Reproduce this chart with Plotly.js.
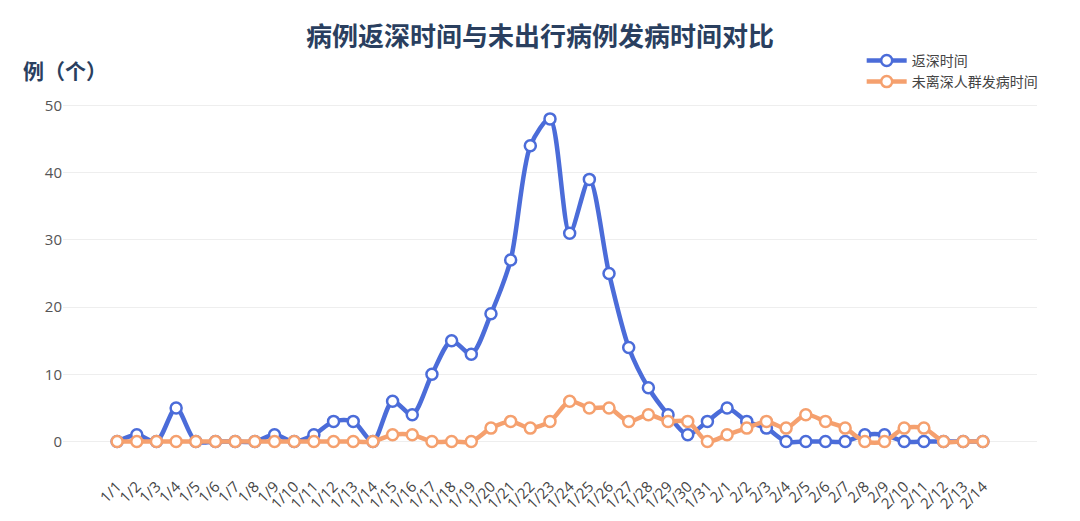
<!DOCTYPE html>
<html>
<head>
<meta charset="utf-8">
<script src="https://cdn.plot.ly/plotly-3.0.1.min.js"></script>
<style>
  html, body { margin: 0; padding: 0; background: #fff; }
  #chart { width: 1080px; height: 521px; }
</style>
</head>
<body>
<div id="chart"></div>
<script>
// dates on the x axis, 1/1 to 2/14
var dates = ['1/1','1/2','1/3','1/4','1/5','1/6','1/7','1/8','1/9','1/10',
  '1/11','1/12','1/13','1/14','1/15','1/16','1/17','1/18','1/19','1/20',
  '1/21','1/22','1/23','1/24','1/25','1/26','1/27','1/28','1/29','1/30','1/31',
  '2/1','2/2','2/3','2/4','2/5','2/6','2/7','2/8','2/9','2/10','2/11','2/12','2/13','2/14'];

// 返深时间
var returnCases = [0,1,0,5,0,0,0,0,1,0,
  1,3,3,0,6,4,10,15,13,19,
  27,44,48,31,39,25,14,8,4,1,3,
  5,3,2,0,0,0,0,1,1,0,0,0,0,0];

// 未离深人群发病时间
var localCases = [0,0,0,0,0,0,0,0,0,0,
  0,0,0,0,1,1,0,0,0,2,
  3,2,3,6,5,5,3,4,3,3,0,
  1,2,3,2,4,3,2,0,0,2,2,0,0,0];

var blue = '#4b6cd9';
var orange = '#f5a06e';

var returnTrace = {
  x: dates,
  y: returnCases,
  name: '返深时间',
  mode: 'lines+markers',
  type: 'scatter',
  line: {color: blue, width: 4.5, shape: 'spline', smoothing: 0.8},
  marker: {symbol: 'circle', size: 11, color: '#fff', line: {color: blue, width: 2.5}}
};

var localTrace = {
  x: dates,
  y: localCases,
  name: '未离深人群发病时间',
  mode: 'lines+markers',
  type: 'scatter',
  line: {color: orange, width: 4.5, shape: 'spline', smoothing: 0.8},
  marker: {symbol: 'circle', size: 11, color: '#fff', line: {color: orange, width: 2.5}}
};

var data = [returnTrace, localTrace];

var layout = {
  width: 1080,
  height: 521,
  margin: {l: 63, r: 43, t: 92, b: 66},
  paper_bgcolor: '#fff',
  plot_bgcolor: '#fff',
  font: {family: '"Open Sans", "Noto Sans CJK SC", sans-serif', color: '#444', size: 14},
  title: {
    text: '<b>病例返深时间与未出行病例发病时间对比</b>',
    x: 0.5, xanchor: 'center', y: 0.93, yanchor: 'middle',
    font: {size: 26, color: '#2a3f5f', family: '"Noto Sans CJK SC", sans-serif'}
  },
  xaxis: {
    type: 'category',
    range: [-2.75, 46.75],
    tickangle: -45,
    showgrid: false,
    zeroline: false,
    showline: false,
    ticklen: 16,
    tickcolor: 'rgba(0,0,0,0)',
    ticks: 'outside',
    tickfont: {size: 15, color: '#444'}
  },
  yaxis: {
    range: [-2, 52],
    dtick: 10,
    showgrid: true,
    gridcolor: '#eeeeee',
    zeroline: false,
    showline: false,
    tickfont: {size: 15, color: '#555'}
  },
  legend: {
    x: 0.82, xanchor: 'left',
    y: 1.13, yanchor: 'top',
    bgcolor: 'rgba(0,0,0,0)',
    font: {size: 14, color: '#444', family: '"Noto Sans CJK SC", sans-serif'},
    itemwidth: 40,
    tracegroupgap: 2
  },
  annotations: [{
    text: '<b>例（个）</b>',
    xref: 'paper', yref: 'paper',
    x: -0.043, xanchor: 'left',
    y: 1.06, yanchor: 'middle',
    showarrow: false,
    font: {size: 21, color: '#2a3f5f', family: '"Noto Sans CJK SC", sans-serif'}
  }]
};

Plotly.newPlot('chart', data, layout, {displayModeBar: false});
</script>
</body>
</html>
